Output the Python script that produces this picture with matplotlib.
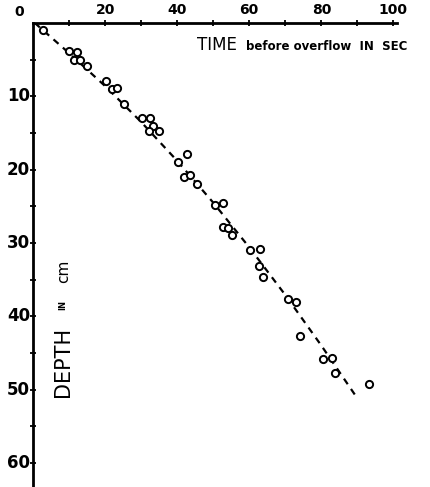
import matplotlib
matplotlib.use("Agg")
import matplotlib.pyplot as plt

# Observed points: time before overflow (s) vs depth (cm)
time_s = [2.7, 10.1, 12.1, 11.4, 13.1, 15.1, 20.3, 22.0, 23.4, 25.3,
          30.2, 32.5, 33.2, 32.2, 35.1, 40.2, 42.7, 42.0, 43.6, 45.5,
          50.6, 52.7, 52.7, 54.0, 55.3, 60.3, 62.9, 62.6, 63.8, 70.7,
          73.1, 74.2, 80.6, 83.1, 83.9, 93.1]
depth_cm = [1.0, 3.8, 4.0, 5.0, 5.0, 5.9, 7.9, 9.0, 8.9, 11.0,
            13.0, 13.0, 14.1, 14.8, 14.7, 18.9, 17.9, 21.0, 20.8, 21.9,
            24.8, 24.6, 27.8, 28.0, 28.9, 30.9, 30.8, 33.1, 34.7, 37.7,
            38.1, 42.7, 45.8, 45.7, 47.8, 49.3]

# Dashed fitted curve
curve_time = [0.5, 10, 20, 30, 40, 50, 60, 70, 80, 90]
curve_depth = [0.0, 4.1, 8.6, 13.5, 18.8, 24.5, 30.6, 37.1, 44.0, 51.2]

xticks_major = [20, 40, 60, 80, 100]
yticks_major = [10, 20, 30, 40, 50, 60]

W, H = 431, 487
fig = plt.figure(figsize=(W / 100, H / 100), dpi=100)
ax = fig.add_axes([33 / W, 0, 364 / W, (H - 23) / H])
ax.set_xlim(0, 101)
ax.set_ylim(63.3, 0)

FAM = ['DejaVu Sans']

ax.plot(curve_time, curve_depth, color='black', lw=1.6,
        dashes=(3.0, 2.6), zorder=2)
ax.plot(time_s, depth_cm, linestyle='none', marker='o', ms=5.2,
        mfc='white', mec='black', mew=1.4, zorder=3)

for s in ['right', 'bottom']:
    ax.spines[s].set_visible(False)
ax.spines['top'].set_linewidth(2.0)
ax.spines['left'].set_linewidth(2.0)

ax.xaxis.tick_top()
ax.set_xticks(range(10, 101, 10))
ax.set_xticklabels([])
ax.set_yticks(range(5, 61, 5))
ax.set_yticklabels([])
ax.tick_params(axis='both', direction='inout', length=5, width=1.3,
               colors='black')

for v in xticks_major:
    ax.text(v, -0.8, str(v), ha='center', va='bottom', fontsize=10,
            family=FAM, fontweight='bold', clip_on=False)
for v in yticks_major:
    ax.text(-0.8, v, str(v), ha='right', va='center', fontsize=12,
            family=FAM, fontweight='bold', clip_on=False)
ax.text(-2.4, -0.5, '0', ha='right', va='bottom', fontsize=10,
        family=FAM, fontweight='bold', clip_on=False)

ax.text(45.6, 3.7, 'TIME', ha='left', va='baseline', fontsize=12,
        family=FAM)
ax.text(59.0, 3.7, 'before overflow  IN  SEC', ha='left', va='baseline',
        fontsize=8.5, family=FAM, fontweight='bold', clip_on=False)

ax.text(8.2, 51.0, 'DEPTH', rotation=90, ha='center', va='bottom',
        fontsize=15, family=FAM)
ax.text(8.2, 39.2, 'IN', rotation=90, ha='center', va='bottom',
        fontsize=6, family=FAM, fontweight='bold')
ax.text(8.4, 35.5, 'cm', rotation=90, ha='center', va='bottom',
        fontsize=11, family=FAM)

fig.savefig('out.png', dpi=100)
